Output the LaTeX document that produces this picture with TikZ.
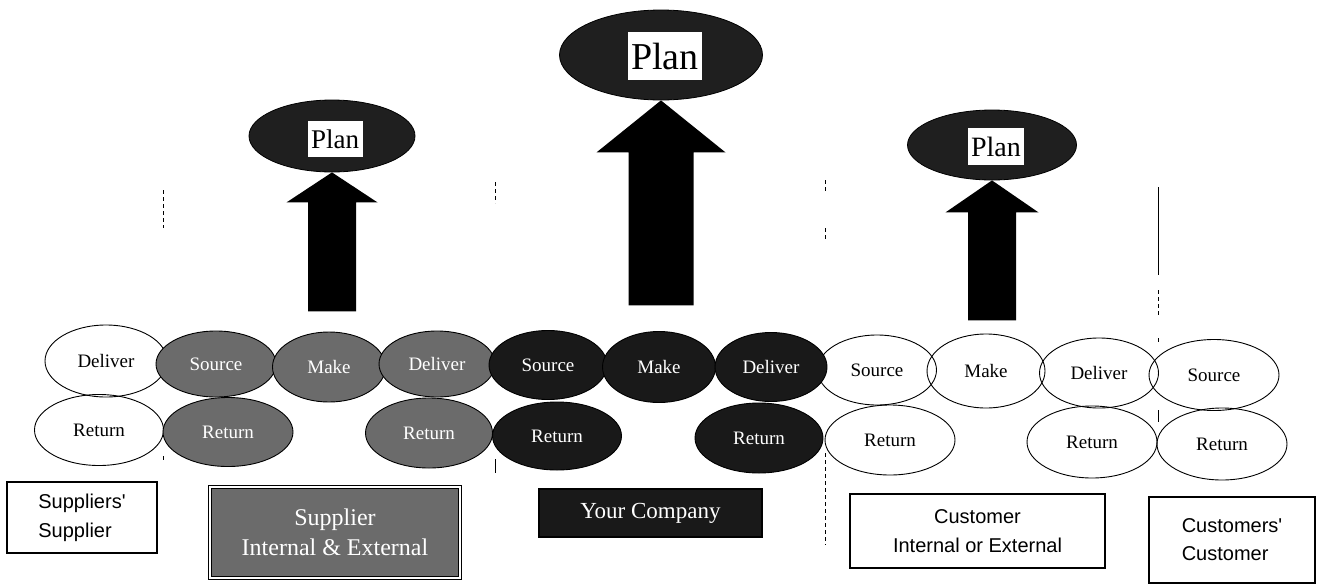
\documentclass[tikz,border=0pt]{standalone}
\usepackage{fontspec}
\setmainfont{Liberation Serif}
\newfontfamily\boxsans{Liberation Sans}
\usetikzlibrary{shapes.geometric}
\begin{document}
\begin{tikzpicture}[x=1pt,y=-1pt,
  stage/.style={ellipse, draw=black, line width=0.9pt, inner sep=0pt,
    font=\fontsize{19}{22}\selectfont},
  open/.style={stage},
  supp/.style={stage, fill=black!58, text=white},
  own/.style={stage, fill=black!90, text=white},
  planell/.style={ellipse, fill=black!88, draw=black, line width=0.8pt, inner sep=0pt},
  planbox/.style={fill=white, inner sep=0pt, text=black},
  party/.style={draw=black, line width=1.1pt, inner sep=0pt, align=center},
  sep/.style={line width=0.8pt, dash pattern=on 4pt off 3pt},
  bigarrow/.style={fill=black}
]
\useasboundingbox (0,0) rectangle (1317,584);

% --- white process ellipses (suppliers' supplier and customers) ---
\node[open, minimum width=122pt, minimum height=72pt] (ssD) at (106,361) {Deliver};
\node[open, minimum width=129pt, minimum height=71pt] (ssR) at (99,430) {Return};
\node[open, minimum width=119pt, minimum height=70pt] (cSrc) at (877,370) {Source};
\node[open, minimum width=118pt, minimum height=74pt] (cMk) at (986,371) {Make};
\node[open, minimum width=119pt, minimum height=70pt] (cDl) at (1099,373) {Deliver};
\node[open, minimum width=130pt, minimum height=70pt] (cR1) at (890,440) {Return};
\node[open, minimum width=130pt, minimum height=72pt] (cR2) at (1092,442) {Return};
\node[open, minimum width=130pt, minimum height=71pt] (ccSrc) at (1214,375) {Source};
\node[open, minimum width=130pt, minimum height=72pt] (ccR) at (1222,444) {Return};

% --- supplier process ellipses ---
\node[supp, minimum width=120pt, minimum height=66pt] (sSrc) at (216,364) {Source};
\node[supp, minimum width=113pt, minimum height=70pt] (sMk) at (329,367) {Make};
\node[supp, minimum width=116pt, minimum height=66pt] (sDl) at (437,364) {Deliver};
\node[supp, minimum width=130pt, minimum height=69pt] (sR1) at (228,432) {Return};
\node[supp, minimum width=127pt, minimum height=70pt] (sR2) at (429,433) {Return};

% --- own company process ellipses ---
\node[own, minimum width=118pt, minimum height=69pt] (ySrc) at (548,365) {Source};
\node[own, minimum width=113pt, minimum height=71pt] (yMk) at (659,367) {Make};
\node[own, minimum width=112pt, minimum height=69pt] (yDl) at (771,367) {Deliver};
\node[own, minimum width=129pt, minimum height=68pt] (yR1) at (557,436) {Return};
\node[own, minimum width=128pt, minimum height=70pt] (yR2) at (759,438) {Return};

% --- plan ellipses ---
\node[planell, minimum width=166pt, minimum height=72pt] (pl1) at (332,136) {};
\node[planbox, minimum width=55pt, minimum height=36pt,
      font=\fontsize{27}{30}\selectfont] (pl1t) at (335,139) {Plan};
\node[planell, minimum width=203pt, minimum height=90pt] (pl2) at (661,55) {};
\node[planbox, minimum width=74pt, minimum height=48pt,
      font=\fontsize{38}{42}\selectfont] (pl2t) at (665,56) {Plan};
\node[planell, minimum width=169pt, minimum height=70pt] (pl3) at (992,145) {};
\node[planbox, minimum width=56pt, minimum height=37pt,
      font=\fontsize{28}{31}\selectfont] (pl3t) at (996,146.5) {Plan};

% --- block arrows pointing up into each plan ---
\fill[bigarrow] (pl1.south) -- ++(45.5,30) -- ++(-21.5,0) -- ++(0,109)
  -- ++(-48,0) -- ++(0,-109) -- ++(-21.5,0) -- cycle;
\fill[bigarrow] (pl2.south) -- ++(64.5,52) -- ++(-32,0) -- ++(0,153)
  -- ++(-65,0) -- ++(0,-153) -- ++(-32,0) -- cycle;
\fill[bigarrow] (pl3.south) -- ++(46.5,32) -- ++(-22.5,0) -- ++(0,108)
  -- ++(-48,0) -- ++(0,-108) -- ++(-22.5,0) -- cycle;

% --- party boxes ---
\node[party, minimum width=150pt, minimum height=71pt, align=left,
      font=\boxsans\fontsize{20}{29}\selectfont] (bSS) at (82,517.5)
      {Suppliers'\\Supplier};
\node[party, fill=black!58, text=white, double=white, double distance=1.5pt,
      line width=0.8pt, minimum width=250pt, minimum height=91pt,
      font=\fontsize{24}{30}\selectfont] (bS) at (335,532.5)
      {Supplier\\Internal \& External};
\node[party, fill=black!90, text=white, minimum width=223pt, minimum height=48pt,
      font=\fontsize{23}{26}\selectfont] (bY) at (650.5,513) {Your Company};
\node[party, minimum width=255pt, minimum height=74pt,
      font=\boxsans\fontsize{20}{29}\selectfont] (bC) at (977.5,531)
      {Customer\\Internal or External};
\node[party, minimum width=166pt, minimum height=86pt, align=left,
      font=\boxsans\fontsize{20}{28}\selectfont] (bCC) at (1232,540)
      {Customers'\\Customer};

% --- broken separator lines between the parties ---
\draw[sep] (163,190) -- (163,228);
\draw[sep] (163,456) -- (163,463);
\draw[sep] (495,182) -- (495,203);
\draw[line width=0.8pt] (495,459) -- (495,473);
\draw[sep] (825,180) -- (825,192);
\draw[sep] (825,228) -- (825,240);
\draw[sep] (825,453) -- (825,545);
\draw[line width=0.8pt] (1158,187) -- (1158,275);
\draw[sep] (1158,290) -- (1158,317);
\draw[sep] (1158,338) -- (1158,344);
\draw[line width=0.8pt] (1158,410) -- (1158,422);
\end{tikzpicture}
\end{document}
